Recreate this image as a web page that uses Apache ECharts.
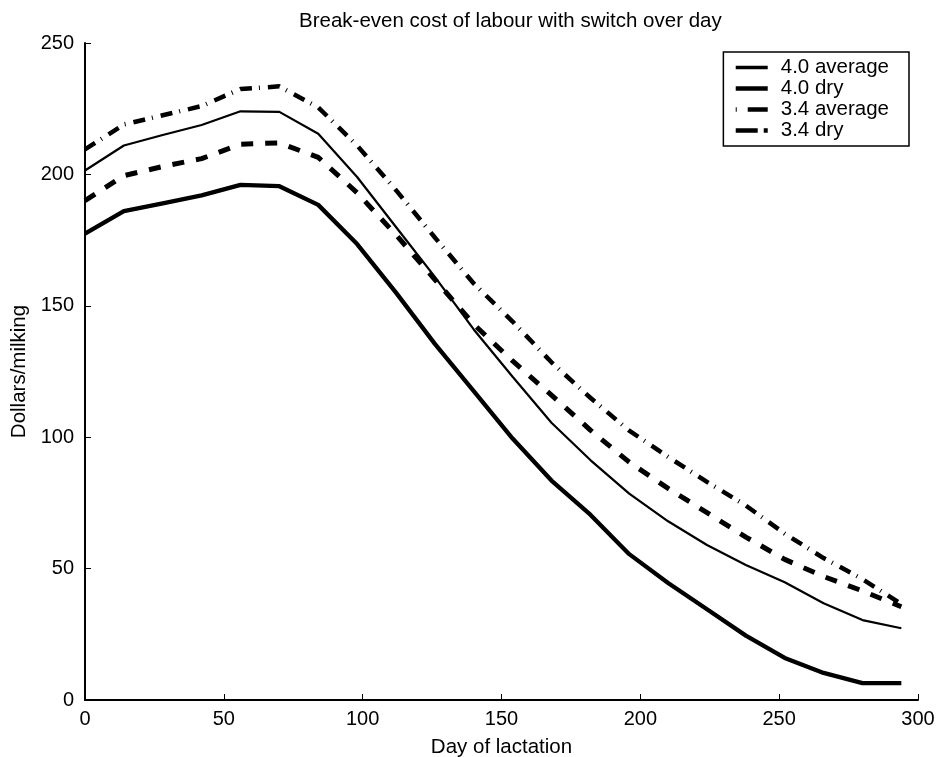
<!DOCTYPE html>
<html>
<head>
<meta charset="utf-8">
<script src="https://cdn.jsdelivr.net/npm/echarts@6/dist/echarts.min.js"></script>
<style>html,body{margin:0;padding:0;background:#fff;}#c{width:938px;height:757px;}</style>
</head>
<body>
<div id="c"></div>
<script>
const days = [0,14,28,42,56,70,84,98,112,126,140,154,168,182,196,210,224,238,252,266,280,294];
const avg40 = [201.5,211,215,218.8,224,223.8,215.5,199,180,161,141,123,105.5,91.3,78.5,68,59,51.4,44.8,36.8,30.4,27.3];
const dry40 = [177.5,186,189,192,196,195.5,188.4,173.5,155,135.5,117.5,99.5,83.5,70.5,55.5,44.5,34.5,24.5,16,10.3,6.4,6.4];
const avg34 = [209.5,219,222.5,226,232.5,233.5,225.5,211,194,176,158.5,144,128.5,115,102.5,92.5,83,74,63.3,54,46,36.5];
const dry34 = [190,199.5,203,206,211.5,212,206.5,193,177,160,143,129,116,102.7,90.5,80.5,71.3,62,53.5,47,41.5,35.5];
const seriesNames = ['4.0 average','4.0 dry','3.4 average','3.4 dry'];
const xTicks = {min:0,max:300,interval:50};
const yTicks = {min:0,max:250,interval:50};

const pair = arr => days.map((d,i)=>[d,arr[i]]);
const font = 'Liberation Sans, Arial, Helvetica, sans-serif';
const chart = echarts.init(document.getElementById('c'), null, {renderer:'canvas'});
chart.setOption({
  backgroundColor:'#fff',
  animation:false,
  title:{text:'Break-even cost of labour with switch over day',left:294,top:6,
    textStyle:{fontFamily:font,fontSize:20.5,fontWeight:'normal',color:'#000'}},
  grid:{left:85,right:20,top:43,bottom:57,containLabel:false,outerBoundsMode:'none'},
  legend:{orient:'vertical',right:29,top:52,backgroundColor:'#fff',borderColor:'#000',borderWidth:1.5,
    padding:[5,20,5,10],itemGap:0,itemWidth:32,itemHeight:16,
    itemStyle:{opacity:0},
    textStyle:{fontFamily:font,fontSize:20.5,lineHeight:21,color:'#000',padding:[0,0,0,8]},
    data:[
      {name:seriesNames[0],lineStyle:{width:3.3,type:'solid',color:'#000'}},
      {name:seriesNames[1],lineStyle:{width:4.7,type:'solid',color:'#000'}},
      {name:seriesNames[2],lineStyle:{width:4.7,type:[1,11,20,10],cap:'butt',color:'#000'}},
      {name:seriesNames[3],lineStyle:{width:4.7,type:[22,6,4,10],cap:'butt',color:'#000'}}
    ]},
  xAxis:{type:'value',min:xTicks.min,max:xTicks.max,interval:xTicks.interval,
    name:'Day of lactation',nameLocation:'middle',nameGap:37,
    nameTextStyle:{fontFamily:font,fontSize:20.5,color:'#000'},
    axisLine:{lineStyle:{color:'#000',width:2}},
    axisTick:{inside:true,length:6,lineStyle:{color:'#000',width:1}},
    axisLabel:{fontFamily:font,fontSize:20,color:'#000',margin:9},
    splitLine:{show:false}},
  yAxis:{type:'value',min:yTicks.min,max:yTicks.max,interval:yTicks.interval,
    name:'Dollars/milking',nameLocation:'middle',nameGap:55,
    nameTextStyle:{fontFamily:font,fontSize:20.5,color:'#000'},
    axisLine:{show:true,lineStyle:{color:'#000',width:2}},
    axisTick:{show:true,inside:true,length:6,lineStyle:{color:'#000',width:1}},
    axisLabel:{fontFamily:font,fontSize:20,color:'#000',margin:11},
    splitLine:{show:false}},
  series:[
    {name:seriesNames[0],type:'line',symbol:'none',data:pair(avg40),color:'#000',
      lineStyle:{color:'#000',width:2.2,type:'solid'}},
    {name:seriesNames[1],type:'line',symbol:'none',data:pair(dry40),color:'#000',
      lineStyle:{color:'#000',width:4.3,type:'solid'}},
    {name:seriesNames[2],type:'line',symbol:'none',data:pair(avg34),color:'#000',
      lineStyle:{color:'#000',width:4.5,type:[12,7,1,8],cap:'butt'}},
    {name:seriesNames[3],type:'line',symbol:'none',data:pair(dry34),color:'#000',
      lineStyle:{color:'#000',width:5,type:[12,12],cap:'butt'}}
  ]
});
</script>
</body>
</html>
